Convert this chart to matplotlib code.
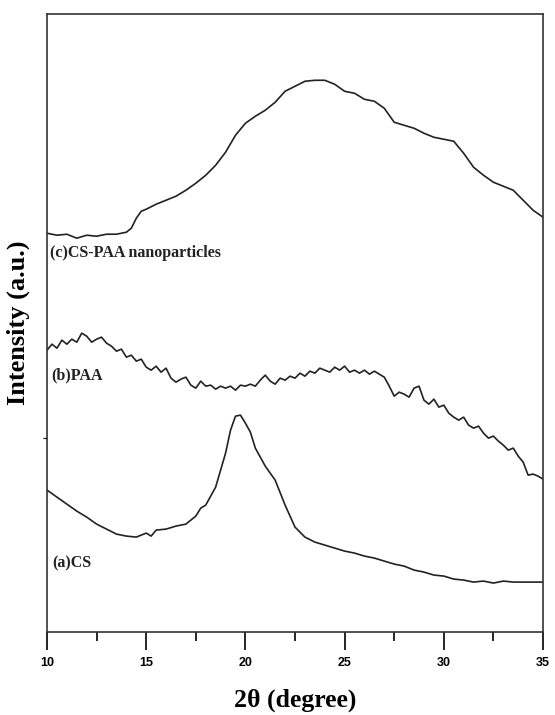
import numpy as np
import matplotlib
matplotlib.use("Agg")
import matplotlib.pyplot as plt
from matplotlib.ticker import MultipleLocator, FixedLocator

# 2theta grid and intensities (a.u.) for each sample
paa_theta = np.arange(10, 35.01, 0.25)
paa_int = [282, 288, 284, 292, 288, 293, 290, 299, 296, 290, 293, 295,
           289, 286, 281, 283, 275, 277, 271, 273, 265, 262, 266, 260,
           264, 254, 250, 253, 255, 247, 244, 251, 246, 247, 243, 246,
           244, 246, 242, 247, 246, 248, 246, 252, 257, 251, 248, 254,
           252, 256, 254, 259, 256, 261, 259, 264, 262, 260, 265, 262,
           266, 260, 262, 259, 262, 258, 261, 258, 255, 246, 236, 240,
           238, 235, 244, 246, 232, 228, 233, 225, 227, 219, 215, 212,
           215, 207, 204, 206, 199, 194, 196, 191, 187, 182, 184, 176,
           170, 157, 158, 156, 153]

cs_theta = [10, 10.5, 11, 11.5, 12, 12.5, 13, 13.5, 14, 14.5, 15, 15.25,
            15.5, 16, 16.5, 17, 17.5, 17.75, 18, 18.5, 19, 19.25, 19.5,
            19.75, 20, 20.25, 20.5, 21, 21.5, 22, 22.5, 23, 23.5, 24, 24.5,
            25, 25.5, 26, 26.5, 27, 27.5, 28, 28.5, 29, 29.5, 30, 30.5, 31,
            31.5, 32, 32.5, 33, 33.5, 34, 34.5, 35]
cs_int = [142, 135, 128, 121, 115, 108, 103, 98, 96, 95, 99, 96,
          102, 103, 106, 108, 116, 124, 127, 145, 179, 202, 216,
          217, 209, 200, 184, 166, 152, 127, 105, 95, 90, 87, 84,
          81, 79, 76, 74, 71, 68, 66, 62, 60, 57, 56, 53, 52,
          50, 51, 49, 51, 50, 50, 50, 50]

np_theta = [10, 10.5, 11, 11.5, 12, 12.5, 13, 13.5, 14, 14.25, 14.5, 14.75,
            15, 15.5, 16, 16.5, 17, 17.5, 18, 18.5, 19, 19.5, 20, 20.5, 21,
            21.5, 22, 22.5, 23, 23.5, 24, 24.5, 25, 25.5, 26, 26.5, 27, 27.5,
            28, 28.5, 29, 29.5, 30, 30.5, 31, 31.5, 32, 32.5, 33, 33.5, 34,
            34.5, 35]
np_int = [399, 397, 398, 394, 397, 396, 398, 398, 400, 404, 414, 421,
          423, 428, 432, 436, 442, 449, 457, 467, 480, 497, 509, 516, 522,
          530, 541, 546, 551, 552, 552, 548, 541, 539, 533, 531, 524, 510,
          507, 504, 499, 495, 493, 491, 479, 465, 457, 450, 446, 442, 432,
          422, 415]

labels = ["(a)CS", "(b)PAA", "(c)CS-PAA nanoparticles"]
label_pos = [(10.25, 69), (10.2, 257), (10.15, 379)]

serif = ["Liberation Serif", "DejaVu Serif"]
sans = ["Liberation Sans", "DejaVu Sans"]

fig = plt.figure(figsize=(5.55, 7.15), dpi=100)
ax = fig.add_axes([0.0847, 0.116, 0.8937, 0.864])

line_kw = dict(color="#222222", lw=1.2)
ax.plot(cs_theta, cs_int, **line_kw)
ax.plot(paa_theta, paa_int, **line_kw)
ax.plot(np_theta, np_int, **line_kw)

for txt, (x, y) in zip(labels, label_pos):
    ax.text(x, y, txt, family=serif, fontweight="bold", fontsize=11.5,
            ha="left", va="center", color="#222222")

ax.set_xlim(10, 35)
ax.set_ylim(0, 618)
ax.xaxis.set_major_locator(MultipleLocator(5))
ax.xaxis.set_minor_locator(MultipleLocator(2.5))
ax.yaxis.set_major_locator(FixedLocator([194]))
ax.set_yticklabels([])
ax.tick_params(axis="x", which="major", direction="out", length=13, width=1.2,
               pad=5, labelsize=9)
ax.tick_params(axis="x", which="minor", direction="out", length=6.5, width=1.2)
ax.tick_params(axis="y", which="major", direction="out", length=3, width=0.8)
for lbl in ax.get_xticklabels():
    lbl.set_family(sans)
    lbl.set_fontweight("bold")

for side in ["left", "right", "top", "bottom"]:
    ax.spines[side].set_linewidth(1.2)
    ax.spines[side].set_color("#333333")

ax.set_xlabel("2θ (degree)", family=serif, fontweight="bold", fontsize=18.5,
              labelpad=14)
ax.set_ylabel("Intensity (a.u.)", family=serif, fontweight="bold", fontsize=19,
              labelpad=6)

fig.savefig("out.png", dpi=100)
